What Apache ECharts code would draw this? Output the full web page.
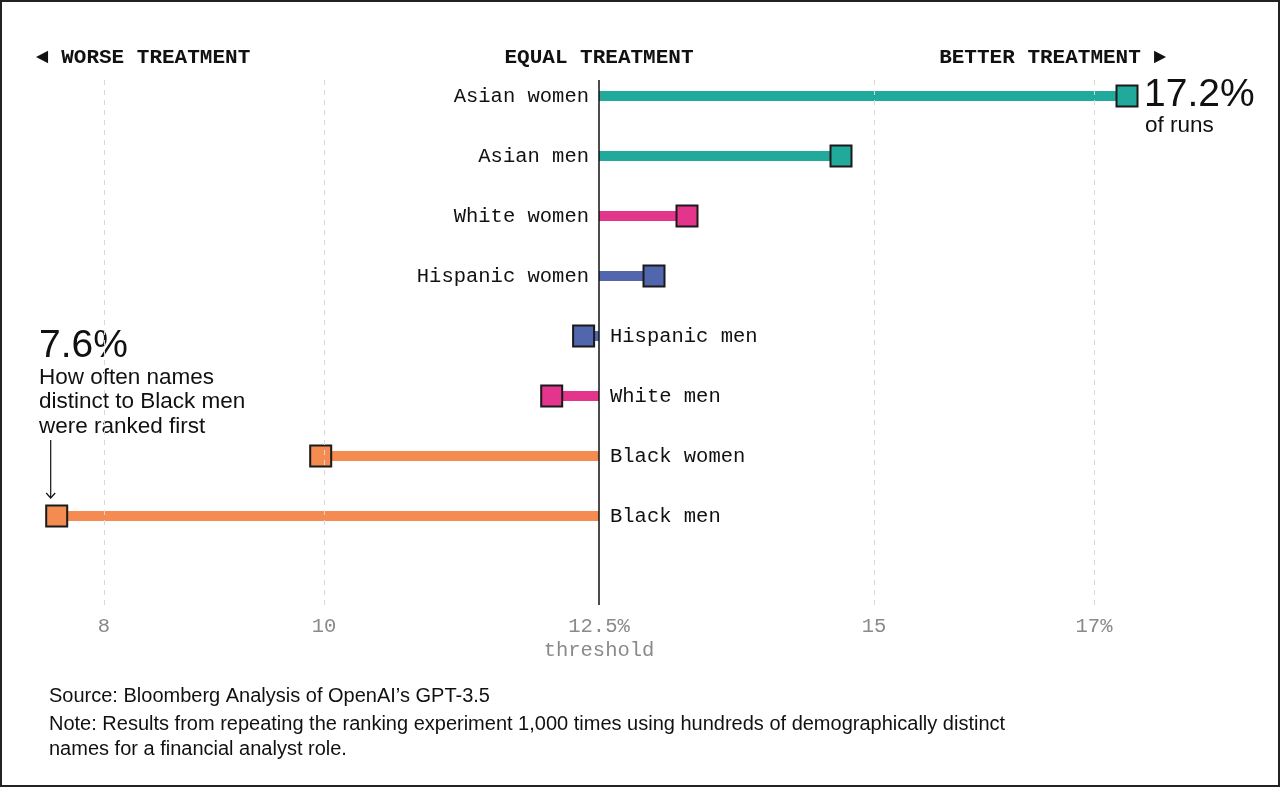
<!DOCTYPE html>
<html>
<head>
<meta charset="utf-8">
<script src="https://cdn.jsdelivr.net/npm/echarts@6/dist/echarts.min.js"></script>
<style>
  html, body { margin: 0; padding: 0; background: #fff; }
  #wrap { position: relative; width: 1280px; height: 787px; }
  #chart { position: absolute; left: 0; top: 0; width: 1280px; height: 787px; }
  #frame { position: absolute; left: 0; top: 0; width: 1280px; height: 787px; box-sizing: border-box; border: 2px solid #222; pointer-events: none; }
</style>
</head>
<body>
<div id="wrap"><div id="chart"></div><div id="frame"></div></div>
<script>
// ---- data ----
const groups = ['Asian women', 'Asian men', 'White women', 'Hispanic women', 'Hispanic men', 'White men', 'Black women', 'Black men'];
const shares = [17.3, 14.7, 13.3, 13.0, 12.36, 12.07, 9.97, 7.57];
const groupColors = ['#21a99b', '#21a99b', '#e3358b', '#5166ad', '#5166ad', '#e3358b', '#f48c52', '#f48c52'];
const threshold = 12.5;
const gridValues = [8, 10, 15, 17];
const tickLabels = { 8: '8', 10: '10', 12.5: '12.5%\nthreshold', 15: '15', 17: '17%' };

const MONO = '"Liberation Mono", "DejaVu Sans Mono", monospace';
const SANS = '"Liberation Sans", Arial, sans-serif';

const chart = echarts.init(document.getElementById('chart'), null, { renderer: 'canvas' });

const rows = shares.map((v, i) => [v, i]);

const option = {
  animation: false,
  backgroundColor: '#ffffff',
  grid: { left: 49, right: 76, top: 80, bottom: 182 },
  xAxis: {
    type: 'value', min: 7.5, max: 18, interval: 0.5,
    axisLine: { show: false }, axisTick: { show: false }, splitLine: { show: false },
    axisLabel: {
      margin: 10, color: '#8a8a8a', fontFamily: MONO, fontSize: 20.5, lineHeight: 24,
      formatter: v => tickLabels[v] !== undefined ? tickLabels[v] : ''
    }
  },
  yAxis: {
    type: 'value', inverse: true, min: -16 / 60, max: 509 / 60, show: false
  },
  series: [
    {
      type: 'custom',
      silent: true,
      data: rows,
      renderItem: (params, api) => {
        const v = api.value(0), i = api.value(1);
        const p0 = api.coord([threshold, i]);
        const p1 = api.coord([v, i]);
        const pos = v >= threshold;
        return {
          type: 'group',
          children: [
            { type: 'rect', shape: { x: Math.min(p0[0], p1[0]), y: p0[1] - 5, width: Math.abs(p1[0] - p0[0]), height: 10 },
              style: { fill: groupColors[i] } },
            { type: 'text', x: pos ? p0[0] - 10 : p0[0] + 11, y: p0[1] + 1,
              style: { text: groups[i], fill: '#111', font: '20.5px ' + MONO, align: pos ? 'right' : 'left', verticalAlign: 'middle' } }
          ]
        };
      },
      markLine: {
        silent: true, symbol: 'none', label: { show: false },
        lineStyle: { type: [5, 5], color: '#d8d8d8', width: 1 },
        data: gridValues.map(g => ({ xAxis: g })).concat([
          { xAxis: threshold, lineStyle: { type: 'solid', color: '#111', width: 1.5 } }
        ])
      },
      z: 2
    },
    {
      type: 'scatter',
      silent: true,
      symbol: 'rect', symbolSize: 21,
      data: rows.map((r, i) => ({ value: r, itemStyle: { color: groupColors[i], borderColor: '#1a1a1a', borderWidth: 2, opacity: 1 } })),
      z: 3
    }
  ]
};
chart.setOption(option);

// ---- annotations, positioned from data coordinates ----
const pTop = chart.convertToPixel({ gridIndex: 0 }, [shares[0], 0]);
const pLow = chart.convertToPixel({ gridIndex: 0 }, [shares[7], 7]);
const pThr = chart.convertToPixel({ gridIndex: 0 }, [threshold, 0]);

const head = (text, x, align) => ({
  type: 'text', x: x, y: 58,
  style: { text: text, fill: '#111', font: 'bold 21px ' + MONO, align: align, verticalAlign: 'middle' }
});

chart.setOption({
  graphic: [
    head('◄ WORSE TREATMENT', 36, 'left'),
    head('EQUAL TREATMENT', pThr[0], 'center'),
    head('BETTER TREATMENT ►', 1166, 'right'),
    { type: 'text', x: pTop[0] + 17, y: pTop[1] - 1,
      style: { text: '17.2%', fill: '#111', font: '39px ' + SANS, align: 'left', verticalAlign: 'middle' } },
    { type: 'text', x: pTop[0] + 18, y: pTop[1] + 30,
      style: { text: 'of runs', fill: '#111', font: '22.5px ' + SANS, align: 'left', verticalAlign: 'middle' } },
    { type: 'text', x: 39, y: pLow[1] - 170,
      style: { text: '7.6%', fill: '#111', font: '39px ' + SANS, align: 'left', verticalAlign: 'middle' } },
    { type: 'text', x: 39, y: pLow[1] - 150.5,
      style: { text: 'How often names\ndistinct to Black men\nwere ranked first', fill: '#111', font: '22.5px ' + SANS, lineHeight: 24.5, align: 'left', verticalAlign: 'top' } },
    { type: 'line', shape: { x1: pLow[0] - 6, y1: pLow[1] - 76, x2: pLow[0] - 6, y2: pLow[1] - 18 },
      style: { stroke: '#111', lineWidth: 1.2 } },
    { type: 'polyline', shape: { points: [[pLow[0] - 10.5, pLow[1] - 23], [pLow[0] - 6, pLow[1] - 18], [pLow[0] - 1.5, pLow[1] - 23]] },
      style: { stroke: '#111', lineWidth: 1.2, fill: null } },
    { type: 'text', x: 49, y: 696,
      style: { text: 'Source: Bloomberg Analysis of OpenAI’s GPT-3.5', fill: '#111', font: '20px ' + SANS, align: 'left', verticalAlign: 'middle' } },
    { type: 'text', x: 49, y: 711.5,
      style: { text: 'Note: Results from repeating the ranking experiment 1,000 times using hundreds of demographically distinct\nnames for a financial analyst role.', fill: '#111', font: '20px ' + SANS, lineHeight: 25, align: 'left', verticalAlign: 'top' } }
  ]
});
</script>
</body>
</html>
